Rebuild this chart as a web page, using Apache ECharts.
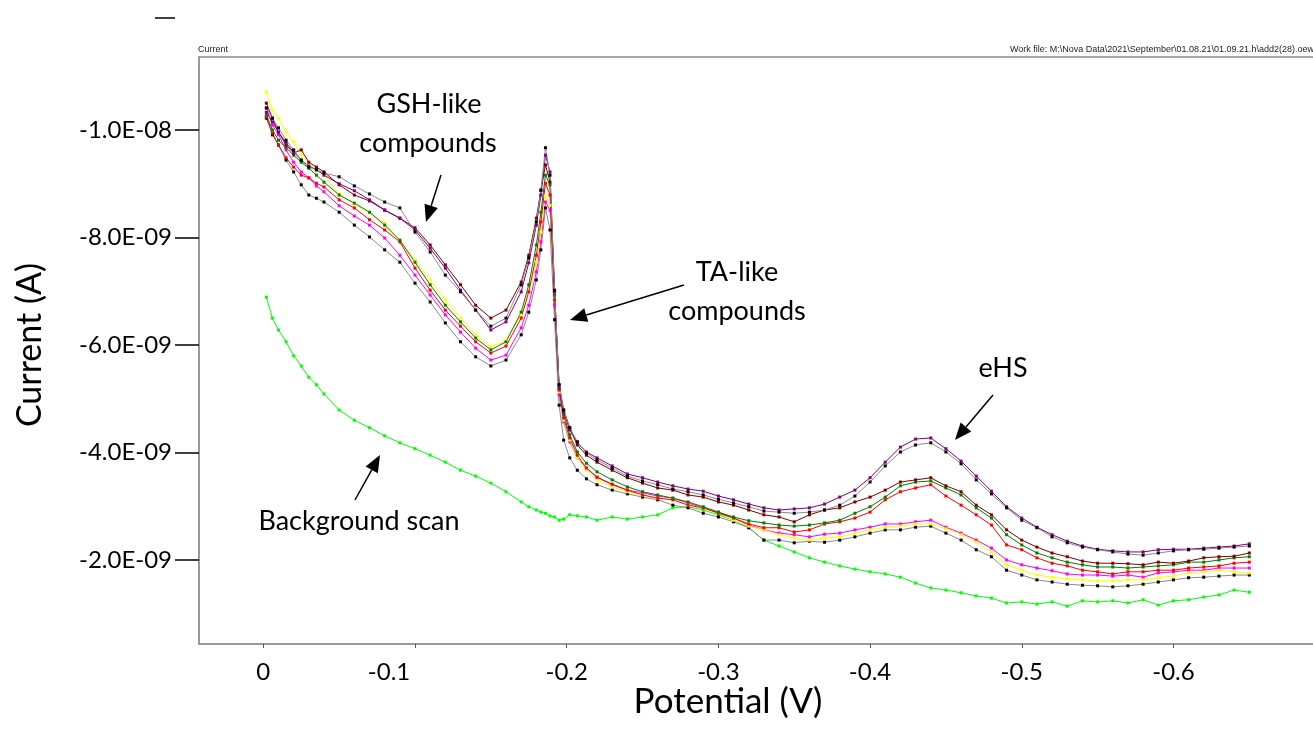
<!DOCTYPE html>
<html>
<head>
<meta charset="utf-8">
<script src="https://cdn.jsdelivr.net/npm/echarts@6/dist/echarts.min.js"></script>
<style>
html,body{margin:0;padding:0;background:#fff;}
#chart{width:1313px;height:742px;}
</style>
</head>
<body>
<div id="chart"></div>
<script>
// Potential (V) sample positions
const potentials = [-0.002, -0.006, -0.01, -0.015, -0.02, -0.025, -0.03, -0.035, -0.04,
  -0.05, -0.06, -0.07, -0.08, -0.09, -0.10, -0.11, -0.12, -0.13, -0.14, -0.15, -0.16, -0.17,
  -0.175, -0.18, -0.183, -0.186, -0.189, -0.192, -0.195, -0.198, -0.202, -0.207, -0.213,
  -0.22, -0.23, -0.24, -0.25, -0.26, -0.27, -0.28, -0.29, -0.30, -0.31, -0.32, -0.33, -0.34,
  -0.35, -0.36, -0.37, -0.38, -0.39, -0.40, -0.41, -0.42, -0.43, -0.44, -0.45, -0.46, -0.47,
  -0.48, -0.49, -0.50, -0.51, -0.52, -0.53, -0.54, -0.55, -0.56, -0.57, -0.58, -0.59, -0.60,
  -0.61, -0.62, -0.63, -0.64, -0.65];

// Currents in nA (axis labels show amperes)
const scanBlackUpper = [-10.41, -10.22, -10.04, -9.81, -9.63, -9.44, -9.31, -9.26, -9.20, -9.13, -8.96, -8.81, -8.66, -8.55, -8.10, -7.73, -7.30, -6.99, -6.65, -6.35, -6.50, -7.12, -7.62, -8.29, -8.88, -9.67, -9.16, -7.02, -5.26, -4.79, -4.46, -4.20, -3.99, -3.86, -3.71, -3.56, -3.47, -3.40, -3.32, -3.27, -3.21, -3.13, -3.06, -2.99, -2.91, -2.89, -2.87, -2.89, -2.93, -3.02, -3.19, -3.45, -3.75, -4.01, -4.14, -4.18, -4.01, -3.79, -3.49, -3.23, -2.97, -2.74, -2.60, -2.43, -2.32, -2.24, -2.19, -2.15, -2.11, -2.09, -2.13, -2.17, -2.19, -2.20, -2.22, -2.24, -2.26];
const scanPurple = [-10.33, -10.15, -9.96, -9.76, -9.59, -9.44, -9.33, -9.26, -9.16, -9.00, -8.87, -8.70, -8.51, -8.36, -8.14, -7.80, -7.43, -7.02, -6.65, -6.28, -6.43, -6.99, -7.53, -8.23, -8.79, -9.53, -9.22, -6.99, -5.20, -4.75, -4.42, -4.18, -4.01, -3.90, -3.75, -3.60, -3.53, -3.45, -3.38, -3.32, -3.28, -3.19, -3.12, -3.04, -2.97, -2.93, -2.95, -2.97, -3.04, -3.17, -3.30, -3.53, -3.82, -4.10, -4.25, -4.27, -4.07, -3.84, -3.56, -3.28, -2.99, -2.78, -2.61, -2.47, -2.35, -2.26, -2.20, -2.17, -2.15, -2.15, -2.19, -2.20, -2.20, -2.22, -2.24, -2.26, -2.30];
const scanMaroon = [-10.50, -10.22, -9.96, -9.72, -9.57, -9.63, -9.40, -9.31, -9.22, -8.98, -8.79, -8.68, -8.51, -8.36, -8.18, -7.86, -7.49, -7.12, -6.74, -6.50, -6.65, -7.17, -7.67, -8.36, -8.88, -9.35, -9.03, -6.99, -5.26, -4.79, -4.46, -4.14, -3.95, -3.82, -3.67, -3.53, -3.43, -3.34, -3.30, -3.21, -3.17, -3.08, -3.02, -2.93, -2.84, -2.80, -2.71, -2.84, -2.93, -2.97, -3.08, -3.17, -3.30, -3.45, -3.49, -3.53, -3.38, -3.27, -3.02, -2.84, -2.56, -2.37, -2.24, -2.13, -2.06, -1.98, -1.94, -1.94, -1.93, -1.91, -1.96, -1.94, -1.98, -2.04, -2.06, -2.07, -2.13];
const scanGreen = [-10.28, -10.00, -9.81, -9.67, -9.53, -9.40, -9.29, -9.16, -9.03, -8.79, -8.64, -8.47, -8.23, -7.95, -7.54, -7.12, -6.74, -6.43, -6.13, -5.91, -6.06, -6.61, -7.12, -7.86, -8.47, -9.16, -8.98, -6.93, -5.20, -4.70, -4.33, -4.01, -3.80, -3.64, -3.49, -3.36, -3.27, -3.21, -3.15, -3.08, -2.99, -2.89, -2.80, -2.73, -2.69, -2.65, -2.63, -2.65, -2.69, -2.74, -2.87, -2.99, -3.17, -3.38, -3.45, -3.47, -3.34, -3.21, -2.97, -2.78, -2.47, -2.28, -2.13, -2.04, -1.96, -1.91, -1.87, -1.87, -1.85, -1.87, -1.89, -1.91, -1.96, -1.96, -2.00, -2.04, -2.06];
const scanRed = [-10.24, -9.94, -9.72, -9.48, -9.31, -9.16, -9.11, -9.01, -8.94, -8.70, -8.55, -8.33, -8.14, -7.92, -7.43, -7.02, -6.65, -6.35, -6.06, -5.85, -5.98, -6.50, -6.99, -7.67, -8.29, -9.01, -8.79, -6.84, -5.16, -4.64, -4.27, -3.95, -3.71, -3.54, -3.41, -3.30, -3.21, -3.15, -3.12, -3.02, -2.97, -2.87, -2.78, -2.67, -2.60, -2.60, -2.52, -2.56, -2.67, -2.71, -2.78, -2.89, -3.12, -3.27, -3.34, -3.40, -3.19, -3.02, -2.84, -2.65, -2.28, -2.19, -2.04, -1.94, -1.89, -1.81, -1.78, -1.74, -1.78, -1.78, -1.81, -1.81, -1.85, -1.87, -1.89, -1.94, -1.96];
const scanYellow = [-10.71, -10.37, -10.22, -9.96, -9.78, -9.53, -9.39, -9.26, -9.16, -8.81, -8.62, -8.46, -8.27, -7.95, -7.58, -7.21, -6.84, -6.50, -6.19, -5.96, -6.09, -6.56, -6.99, -7.54, -8.10, -8.77, -8.60, -6.84, -5.13, -4.60, -4.23, -3.90, -3.67, -3.49, -3.36, -3.27, -3.21, -3.15, -3.12, -3.02, -2.97, -2.87, -2.74, -2.63, -2.56, -2.47, -2.41, -2.37, -2.41, -2.43, -2.50, -2.56, -2.61, -2.63, -2.67, -2.67, -2.58, -2.47, -2.33, -2.15, -1.91, -1.81, -1.72, -1.68, -1.65, -1.63, -1.61, -1.61, -1.63, -1.63, -1.67, -1.70, -1.76, -1.78, -1.81, -1.78, -1.76];
const scanMagenta = [-10.41, -10.09, -9.91, -9.63, -9.40, -9.22, -9.11, -8.96, -8.85, -8.59, -8.40, -8.23, -7.99, -7.67, -7.30, -6.93, -6.56, -6.24, -5.94, -5.72, -5.81, -6.32, -6.74, -7.36, -7.92, -8.66, -8.51, -6.74, -5.07, -4.57, -4.20, -3.90, -3.71, -3.54, -3.40, -3.30, -3.25, -3.19, -3.15, -3.06, -2.97, -2.89, -2.78, -2.65, -2.56, -2.50, -2.47, -2.43, -2.48, -2.50, -2.56, -2.61, -2.67, -2.67, -2.71, -2.74, -2.61, -2.50, -2.37, -2.22, -2.00, -1.91, -1.85, -1.80, -1.74, -1.72, -1.72, -1.70, -1.72, -1.68, -1.76, -1.78, -1.81, -1.81, -1.85, -1.85, -1.85];
const scanBlackLower = [-10.22, -9.91, -9.72, -9.44, -9.22, -8.98, -8.79, -8.73, -8.66, -8.47, -8.23, -8.01, -7.77, -7.54, -7.15, -6.80, -6.41, -6.06, -5.78, -5.61, -5.72, -6.19, -6.61, -7.21, -7.77, -8.55, -8.14, -6.47, -4.88, -4.23, -3.90, -3.67, -3.51, -3.40, -3.30, -3.23, -3.17, -3.12, -3.02, -2.97, -2.87, -2.80, -2.71, -2.60, -2.37, -2.37, -2.32, -2.35, -2.33, -2.37, -2.43, -2.50, -2.56, -2.56, -2.61, -2.63, -2.50, -2.37, -2.19, -2.06, -1.81, -1.72, -1.63, -1.59, -1.55, -1.53, -1.52, -1.50, -1.52, -1.55, -1.59, -1.63, -1.67, -1.68, -1.70, -1.72, -1.72];
const backgroundScan = [-6.89, -6.50, -6.28, -6.06, -5.80, -5.61, -5.40, -5.26, -5.09, -4.79, -4.60, -4.46, -4.31, -4.18, -4.07, -3.95, -3.82, -3.67, -3.56, -3.43, -3.27, -3.08, -2.99, -2.93, -2.89, -2.87, -2.82, -2.80, -2.74, -2.76, -2.84, -2.82, -2.80, -2.74, -2.80, -2.76, -2.80, -2.84, -2.97, -2.99, -2.93, -2.84, -2.74, -2.60, -2.37, -2.26, -2.15, -2.04, -1.96, -1.89, -1.83, -1.78, -1.74, -1.68, -1.57, -1.48, -1.44, -1.39, -1.33, -1.29, -1.20, -1.22, -1.18, -1.22, -1.14, -1.24, -1.22, -1.24, -1.20, -1.26, -1.16, -1.24, -1.26, -1.31, -1.35, -1.44, -1.40];

const xTickValues = [0, -0.1, -0.2, -0.3, -0.4, -0.5, -0.6];
const xTickLabels = ['0', '-0.1', '-0.2', '-0.3', '-0.4', '-0.5', '-0.6'];
const yTickValues = [-10, -8, -6, -4, -2];
const yTickLabels = ['-1.0E-08', '-8.0E-09', '-6.0E-09', '-4.0E-09', '-2.0E-09'];

const FONT = 'Lato, "Open Sans", sans-serif';

function pairs(arr) { return potentials.map((p, i) => [p, arr[i]]); }

function mkSeries(name, data, lineColor, markColor) {
  return {
    name: name, type: 'line', data: pairs(data),
    symbol: 'rect', symbolSize: 3, showSymbol: true,
    lineStyle: { color: lineColor, width: 1 },
    itemStyle: { color: markColor },
    emphasis: { disabled: true },
    animation: false, z: 3
  };
}

const chart = echarts.init(document.getElementById('chart'), null, { renderer: 'canvas' });

function arrow(x1, y1, x2, y2) {
  const ang = Math.atan2(y2 - y1, x2 - x1);
  const L = 17, W = 7;
  const bx = x2 - L * Math.cos(ang), by = y2 - L * Math.sin(ang);
  const nx = -Math.sin(ang), ny = Math.cos(ang);
  return [
    { type: 'line', shape: { x1: x1, y1: y1, x2: bx, y2: by }, style: { stroke: '#000', lineWidth: 1.5 } },
    { type: 'polygon', shape: { points: [[x2, y2], [bx + nx * W, by + ny * W], [bx - nx * W, by - ny * W]] }, style: { fill: '#000' } }
  ];
}

function txt(x, y, s, size) {
  return { type: 'text', x: x, y: y, style: { text: s, font: size + 'px ' + FONT, fill: '#000', align: 'center', verticalAlign: 'middle' } };
}

const graphics = [
  { type: 'line', shape: { x1: 155, y1: 18, x2: 175, y2: 18 }, style: { stroke: '#000', lineWidth: 1.5 } },
  { type: 'line', shape: { x1: 198, y1: 57, x2: 1313, y2: 57 }, style: { stroke: '#8c8c8c', lineWidth: 1.5 } },
  { type: 'text', x: 198, y: 54, style: { text: 'Current', font: '9px "Liberation Sans", Arial, sans-serif', fill: '#222', align: 'left', verticalAlign: 'bottom' } },
  { type: 'text', x: 1314, y: 54, style: { text: 'Work file: M:\\Nova Data\\2021\\September\\01.08.21\\01.09.21.h\\add2(28).oew', font: '9px "Liberation Sans", Arial, sans-serif', fill: '#222', align: 'right', verticalAlign: 'bottom' } },
  txt(728, 702, 'Potential (V)', 35),
  { type: 'text', x: 30, y: 345, rotation: Math.PI / 2, style: { text: 'Current (A)', font: '34px ' + FONT, fill: '#000', align: 'center', verticalAlign: 'middle' } },
  txt(429, 104, 'GSH-like', 27), txt(428, 143, 'compounds', 27),
  txt(737, 272, 'TA-like', 27), txt(737, 311, 'compounds', 27),
  txt(1003, 368, 'eHS', 27),
  txt(359, 521, 'Background scan', 27)
].concat(arrow(441, 175, 426, 222), arrow(684, 285, 570, 320), arrow(993, 395, 955, 440), arrow(355, 500, 380, 455));

chart.setOption({
  backgroundColor: '#fff',
  animation: false,
  grid: { left: 199, top: 57, right: 0, bottom: 98, show: false },
  xAxis: {
    type: 'value', inverse: true, min: -0.692, max: 0.0424,
    axisLine: { show: true, onZero: false, lineStyle: { color: '#9a9a9a', width: 2 } },
    axisTick: { show: true, length: 4, customValues: xTickValues, lineStyle: { color: '#555', width: 1 } },
    axisLabel: {
      customValues: xTickValues, margin: 16, color: '#000', fontFamily: FONT, fontSize: 24,
      formatter: function (v) {
        const i = xTickValues.findIndex(t => Math.abs(t - v) < 1e-9);
        const s = i >= 0 ? xTickLabels[i] : '';
        return i === 1 ? '{off|' + s + '}' : s;
      },
      rich: { off: { fontFamily: FONT, fontSize: 24, color: '#000', padding: [0, 52, 0, 0] } }
    },
    splitLine: { show: false }
  },
  yAxis: {
    type: 'value', inverse: true, min: -11.358, max: -0.437,
    axisLine: { show: true, onZero: false, lineStyle: { color: '#9a9a9a', width: 2 } },
    axisTick: { show: true, length: 24, customValues: yTickValues, lineStyle: { color: '#000', width: 1.5 } },
    axisLabel: {
      customValues: yTickValues, margin: 27, color: '#000', fontFamily: FONT, fontSize: 24,
      formatter: function (v) {
        const i = yTickValues.findIndex(t => Math.abs(t - v) < 1e-9);
        return i >= 0 ? yTickLabels[i] : '';
      }
    },
    splitLine: { show: false }
  },
  series: [
    mkSeries('Background', backgroundScan, '#00ff00', '#00ff00'),
    mkSeries('Black lower', scanBlackLower, '#8a8a8a', '#000000'),
    mkSeries('Magenta', scanMagenta, '#ff00ff', '#ff00ff'),
    mkSeries('Yellow', scanYellow, '#ffff00', '#ffff00'),
    mkSeries('Red', scanRed, '#ff0000', '#ff0000'),
    mkSeries('Green', scanGreen, '#008000', '#008000'),
    mkSeries('Maroon', scanMaroon, '#800000', '#800000'),
    mkSeries('Purple', scanPurple, '#800080', '#800080'),
    mkSeries('Black upper', scanBlackUpper, '#8a8a8a', '#000000')
  ],
  graphic: { elements: graphics }
});
</script>
</body>
</html>
